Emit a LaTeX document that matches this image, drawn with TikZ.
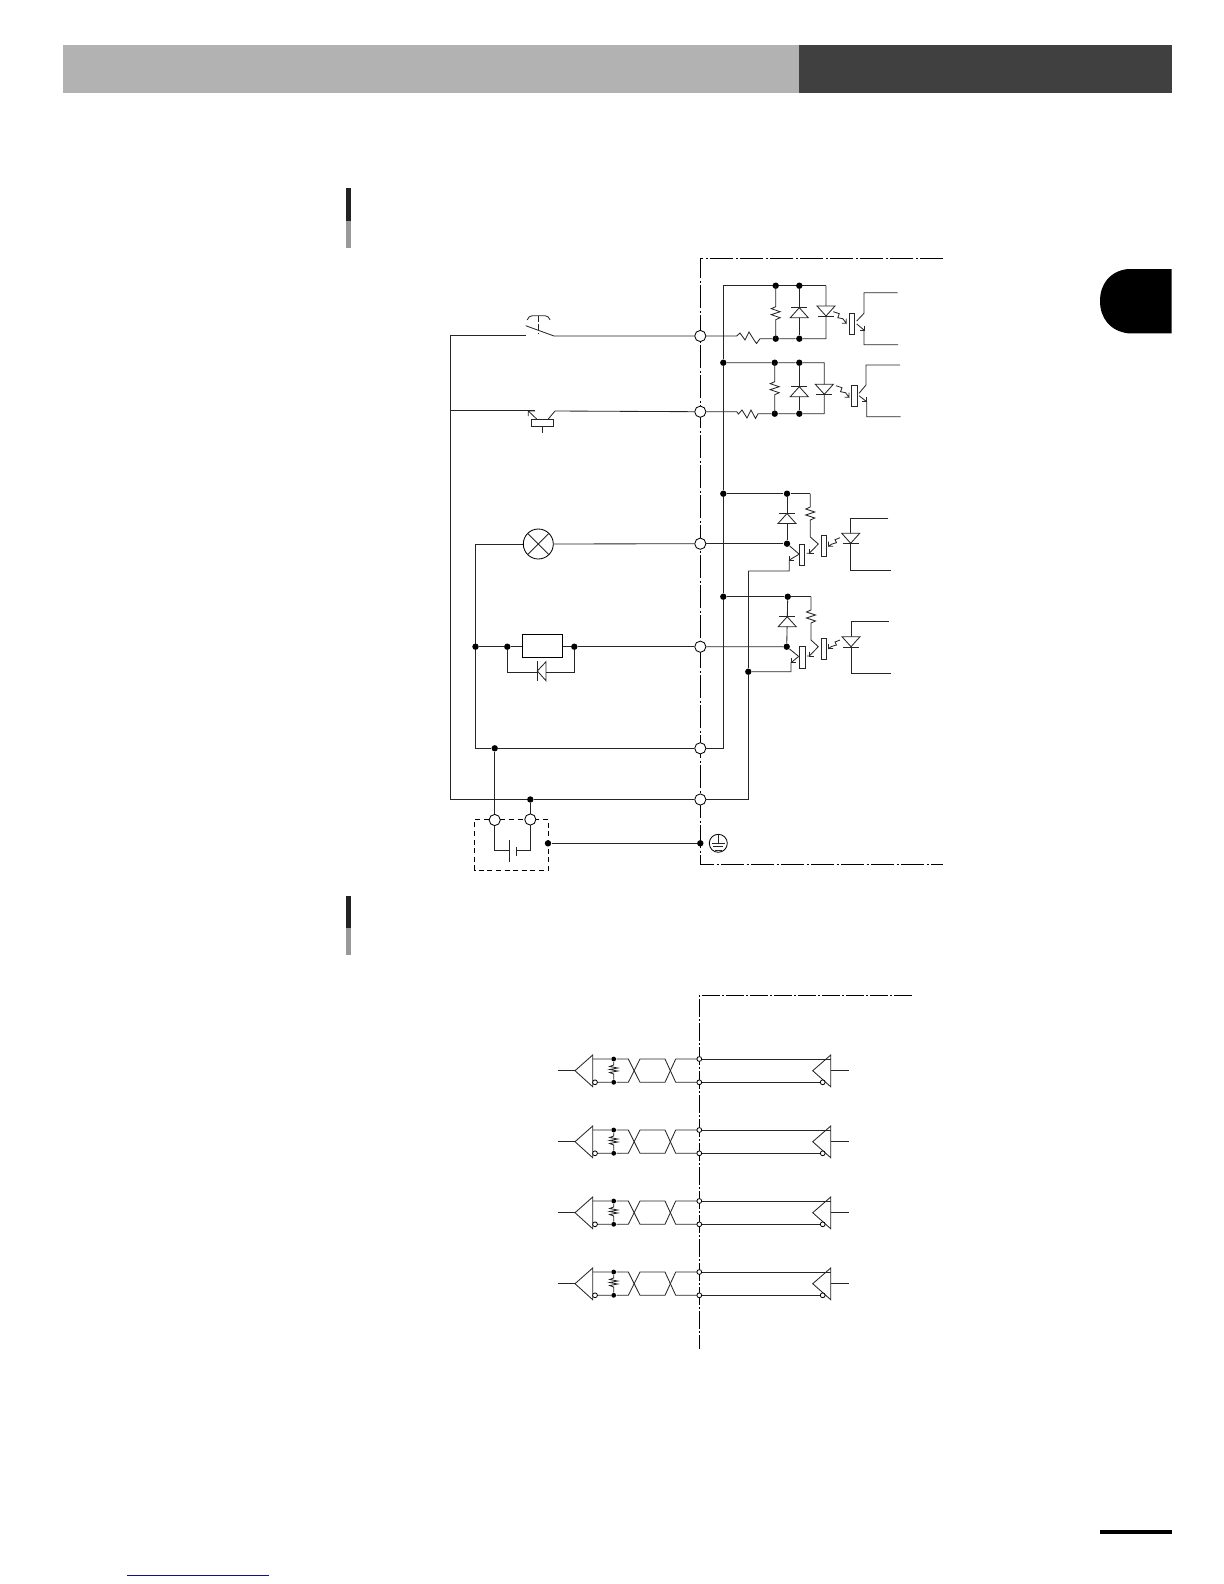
\documentclass[tikz,border=0pt]{standalone}
\usepackage{amsmath}
\usepackage{tikz}
\usetikzlibrary{positioning}
\definecolor{barlight}{HTML}{B2B2B2}
\definecolor{bardark}{HTML}{404040}
\definecolor{marktop}{HTML}{222222}
\definecolor{marklow}{HTML}{999999}
\definecolor{linknavy}{HTML}{101090}
\tikzset{
  wire/.style={line width=0.42pt,black!85},
  border/.style={line width=0.45pt,dash pattern=on 11.5pt off 1.2pt on 1pt off 1.3pt},
  borderlow/.style={line width=0.45pt,dash pattern=on 9pt off 1pt on 1pt off 1pt},
  term/.style={circle,draw,fill=white,line width=0.42pt,inner sep=0pt,minimum size=5.6pt},
  tinyterm/.style={circle,draw,fill=white,line width=0.4pt,inner sep=0pt,minimum size=2.4pt},
  jdot/.style={circle,fill=black,inner sep=0pt,minimum size=3.2pt},
  smalljdot/.style={circle,fill=black,inner sep=0pt,minimum size=2.4pt},
}
% vertical resistor, diode (pointing up) and LED (pointing down)
\newcommand{\vres}[4]{\draw[wire] (#1,#2) -- (#1,#3) -- ++(-4.5,2) -- ++(9,3) -- ++(-9,3) -- ++(9,3) -- ++(-4.5,2) -- (#1,#4);}
\newcommand{\updiode}[2]{\draw[wire,fill=white] (#1-9,#2) -- (#1+9,#2) -- (#1,#2-10) -- cycle; \draw[wire] (#1-8,#2-10.5) -- (#1+8,#2-10.5);}
\newcommand{\dnled}[2]{\draw[wire,fill=white] (#1-9,#2) -- (#1+9,#2) -- (#1,#2+10) -- cycle; \draw[wire] (#1-8,#2+10.5) -- (#1+8,#2+10.5);}
% light going right-down and left-down
\newcommand{\lightzig}[2]{\draw[wire] (#1,#2) -- ++(6,2) -- ++(-1.5,4) -- ++(5,1) -- ++(3.5,4.5) -- ++(0,-4.5) ++(0,4.5) -- ++(-4.5,0);}
\newcommand{\lightzag}[2]{\draw[wire] (#1,#2) -- ++(-5,2) -- ++(1.5,3) -- ++(-5,1.5) -- ++(-3,2) -- ++(0,-4.5) ++(0,4.5) -- ++(4.5,0);}
\newcommand{\optobox}[3]{\draw[wire,fill=white] (#1,#2) rectangle (#1+5.5,#3);}
% line receiver of the lower picture
\newcommand{\rowrx}[1]{
\node[smalljdot] (da#1) at (613.7,#1) {};
\node[smalljdot] (db#1) at (613.7,#1+23.3) {};
\draw[wire] (592.7,#1-4) -- (575,#1+11.7) -- (592.7,#1+27.7) -- cycle;
\draw[wire] (557.7,#1+11.7) -- (575,#1+11.7);
\draw[wire] (592.7,#1) -- (da#1) -- (628.3,#1) -- (640,#1+23.3) -- (665,#1+23.3) -- (675.7,#1) -- (699.3,#1);
\draw[wire] (595,#1+23.3) -- (db#1) -- (628.3,#1+23.3) -- (640,#1) -- (665,#1) -- (675.7,#1+23.3) -- (699.3,#1+23.3);
\node[tinyterm] at (595,#1+23.3) {};
\draw[wire] (da#1) -- (613.7,#1+6) -- ++(-4,1.5) -- ++(8,1.5) -- ++(-8,1.5) -- ++(8,1.5) -- ++(-8,1.5) -- ++(4,1.5) -- (db#1);
\draw[wire] (830.7,#1-4) -- (812.7,#1+11.7) -- (830.7,#1+27.7) -- cycle;
\draw[wire] (830.7,#1+11.7) -- (849.3,#1+11.7);
\draw[wire] (699.3,#1) -- (830.7,#1);
\draw[wire] (699.3,#1+23.3) -- (820.5,#1+23.3);
\node[tinyterm] at (822.7,#1+23.3) {};
\node[tinyterm] (ta#1) at (699.3,#1) {};
\node[tinyterm] (tb#1) at (699.3,#1+23.3) {};
}

\begin{document}
\begin{tikzpicture}[x=0.5pt,y=-0.5pt]
\useasboundingbox (0,0) rectangle (1224,1584);
% page furniture
\fill[barlight] (63,45) rectangle (798.5,93.3);
\fill[bardark] (798.5,45) rectangle (1171.7,93.3);
\fill[black] (1171.7,269) -- (1171.7,333.3) -- (1128,333.3) .. controls (1110,331) and (1100,318) .. (1100,301) .. controls (1100,284) and (1110,271) .. (1128,269) -- cycle;
\fill[marktop] (346,188) rectangle (351,220.7);
\fill[marklow] (346,220.7) rectangle (351,248.3);
\fill[marktop] (346,896) rectangle (351,928);
\fill[marklow] (346,928) rectangle (351,955);
\fill[black] (1100,1530) rectangle (1171.7,1534);
\fill[linknavy] (127,1574.7) rectangle (269,1576);

% upper picture: boundary and terminals
\draw[border] (943.4,258.3) -- (700.3,258.3) -- (700.3,864.3) -- (943.4,864.3);
\node[term] (t1) at (700.3,336) {};
\node[term] (t2) at (700.3,411.7) {};
\node[term] (t3) at (700.3,543.7) {};
\node[term] (t4) at (700.3,646.7) {};
\node[term] (t5) at (700.3,748.3) {};
\node[term] (t6) at (700.3,799.5) {};
\node[jdot] (jgnd) at (700.3,843.3) {};
\node[jdot] (jbat) at (548,843.3) {};
\node[jdot] (jl) at (494.7,748.3) {};
\node[jdot] (jr) at (530.3,799.5) {};

% bus lines
\node[jdot] (b2) at (723.3,362.7) {};
\node[jdot] (b3) at (723.3,493.7) {};
\node[jdot] (b4) at (723.3,596.7) {};
\draw[wire] (t5.east) -- (723.3,748.3) -- (b4) -- (b3) -- (b2) -- (723.3,285.7) -- (826,285.7);
\node[jdot] (c4) at (748.3,671.7) {};
\draw[wire] (t6.east) -- (748.3,799.5) -- (c4) -- (748.3,571);

% input row 1
\node[jdot] (r1a) at (775.7,285.7) {};
\node[jdot] (r1b) at (799.3,285.7) {};
\node[jdot] (r1c) at (775.7,338.7) {};
\node[jdot] (r1d) at (799.3,338.7) {};
\draw[wire] (t1.east) -- (736.7,336) -- (740,333) -- (745,340) -- (749,332) -- (754,340) -- (756.5,343.5) -- (760,338.7) -- (r1c) -- (r1d) -- (826,338.7) -- (826,285.7);
\vres{775.7}{285.7}{306.7}{338.7}
\draw[wire] (r1b) -- (r1d);
\updiode{799.3}{317.7}
\dnled{826}{306}
\lightzig{833.3}{311.7}
\optobox{849}{313.3}{334.3}
\draw[wire] (897.7,292.7) -- (864,292.7) -- (864,313.3) -- (856.7,321) (856.7,324) -- (864,330) -- (864,344.7) -- (898,344.7);
\draw[wire] (864,325.5) -- (864,330) -- (859.5,330);

% input row 2
\node[jdot] (r2a) at (774.7,362.7) {};
\node[jdot] (r2b) at (799.3,362.7) {};
\node[jdot] (r2c) at (774.7,413.7) {};
\node[jdot] (r2d) at (799.3,413.7) {};
\draw[wire] (b2) -- (r2a) -- (r2b) -- (824.3,362.7) -- (824.3,413.7) -- (r2d) -- (r2c) -- (758,413.7) -- (755.5,418.5) -- (751,410) -- (747,418) -- (742,410) -- (738.5,414) -- (736.7,411.7) -- (t2.east);
\vres{774.7}{362.7}{381.7}{413.7}
\draw[wire] (r2b) -- (r2d);
\updiode{799.3}{396.7}
\dnled{824.3}{384.3}
\lightzig{836}{385.7}
\optobox{851.5}{385}{406.7}
\draw[wire] (900,365) -- (866,365) -- (866,385) -- (859,393.3) (859,395.7) -- (866.7,401.7) -- (866.7,416.7) -- (900.7,416.7);
\draw[wire] (866.7,397.2) -- (866.7,401.7) -- (862.2,401.7);

% output row 3
\node[jdot] (r3a) at (787,493.7) {};
\node[jdot] (r3c) at (787,543.7) {};
\draw[wire] (b3) -- (r3a) -- (810.3,493.7);
\draw[wire] (t3.east) -- (r3c) -- (r3a);
\updiode{787}{523.5}
\vres{810.3}{493.7}{507}{537}
\draw[wire] (810.3,537) -- (818.3,544) -- (809.3,553.3) -- (806.7,553.3);
\draw[wire] (809.3,548.8) -- (809.3,553.3) -- (814,553.3);
\optobox{821}{535.7}{556.7}
\optobox{799.3}{544}{565.3}
\draw[wire] (r3c) -- (799,554);
\draw[wire] (799,554.3) -- (789.3,560) -- (789.3,571) -- (748.3,571);
\draw[wire] (789.3,555.5) -- (789.3,560) -- (794,560);
\lightzag{840}{537.7}
\draw[wire] (888.3,518.3) -- (850.7,518.3) -- (850.7,570) -- (891,570);
\dnled{850.7}{533.3}

% output row 4
\node[jdot] (r4a) at (787.7,596.7) {};
\node[jdot] (r4c) at (786.7,646.7) {};
\draw[wire] (b4) -- (r4a) -- (811,596.7);
\draw[wire] (t4.east) -- (r4c) -- (r4a);
\updiode{787.2}{626.7}
\vres{811}{596.7}{610}{640}
\draw[wire] (811,640) -- (818.3,646.7) -- (809.3,656) -- (807,656);
\draw[wire] (809.3,651.5) -- (809.3,656) -- (814,656);
\optobox{821.3}{638.3}{659.3}
\optobox{799.5}{646.7}{668.3}
\draw[wire] (r4c) -- (799,656.7);
\draw[wire] (798.3,656.7) -- (791,662.7) -- (791,671.7) -- (c4);
\draw[wire] (791,658.2) -- (791,662.7) -- (795.5,662.7);
\lightzag{840}{640}
\draw[wire] (889,621.7) -- (851,621.7) -- (851,673.3) -- (891,673.3);
\dnled{851}{636.7}

% field side: switch and transistor
\draw[wire] (jl) -- (475.5,748.3) -- (475.5,544) -- (523.3,544);
\draw[wire] (jr) -- (450,799.5) -- (450,335) -- (525.7,335);
\draw[wire] (525.7,325.7) -- (554,336) -- (t1.west);
\draw[wire,rounded corners=2pt] (527.3,320) -- (528.3,315.7) -- (549,315.7) -- (550,320);
\draw[wire,dash pattern=on 3pt off 1.2pt] (538.3,315.7) -- (538.3,333.3);
\draw[wire] (450,410) -- (535,410);
\draw[wire] (528.3,416) -- (528.3,411) -- (535,411) (528.3,411) -- (536.7,419);
\draw[wire] (531.3,419.3) rectangle (553.7,426.7);
\draw[wire] (548.3,419) -- (555,411) -- (t2.west);
\draw[wire] (542.3,426.7) -- (542.3,433.3);

% lamp
\node[circle,draw,inner sep=0pt,minimum size=15pt,line width=0.42pt] (lamp) at (538.3,544) {};
\draw[wire] (lamp.north west) -- (lamp.south east) (lamp.north east) -- (lamp.south west);
\draw[wire] (lamp.east) -- (t3.west);

% relay with flywheel diode
\node[jdot] (k0) at (475.5,646.7) {};
\node[jdot] (k1) at (507.3,646.7) {};
\node[jdot] (k2) at (574.3,646.7) {};
\node[draw,line width=0.45pt,minimum width=20pt,minimum height=11.5pt,inner sep=0pt] (relay) at (542.7,645.8) {};
\draw[wire] (k0) -- (k1) -- (relay.west |- k1);
\draw[wire] (relay.east |- k2) -- (k2) -- (t4.west);
\draw[wire] (k1) -- (507.3,672) -- (537.3,672);
\draw[wire] (k2) -- (574.3,672) -- (546,672);
\draw[wire] (537.3,661) -- (537.3,680.7);
\draw[wire] (537.3,671) -- (546,661.7) -- (546,680.7) -- cycle;

% lower rails
\draw[wire] (jl) -- (t5.west);
\draw[wire] (jr) -- (t6.west);

% battery in dashed box
\draw[line width=0.42pt,dash pattern=on 2.5pt off 1.8pt] (489,819.5) -- (474.7,819.5) -- (474.7,870) -- (548.3,870) -- (548.3,819.5) -- (536,819.5);
\draw[line width=0.42pt,dash pattern=on 2.5pt off 1.8pt] (500.4,819.5) -- (524.6,819.5);
\draw[wire] (jl) -- (494.7,850) -- (509,850);
\draw[wire] (jr) -- (530.3,850) -- (516.3,850);
\draw[wire] (509,840) -- (509,862.3);
\draw[wire] (516.3,846.7) -- (516.3,855.7);
\draw[wire] (jbat) -- (jgnd);
\node[term] (tbl) at (494.7,820) {};
\node[term] (tbr) at (530.3,819.5) {};

% earth symbol
\node[circle,draw,inner sep=0pt,minimum size=9pt,line width=0.42pt] (gnd) at (718.3,843.3) {};
\draw[wire] (gnd.north) -- (718.3,843.3);
\draw[wire] (711.7,843.3) -- (725,843.3) (713.3,846.7) -- (723.3,846.7) (715,850) -- (721.7,850);

% lower picture
\draw[borderlow] (911.7,995) -- (699.3,995) -- (699.3,1348.5);
\rowrx{1059}
\rowrx{1130}
\rowrx{1201}
\rowrx{1272}
\end{tikzpicture}
\end{document}
